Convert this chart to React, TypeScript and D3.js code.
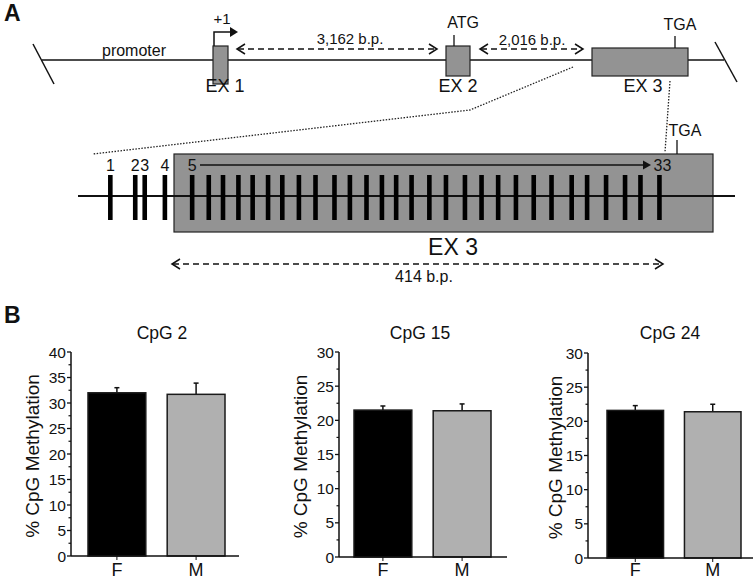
import React from "react";
import * as d3 from "d3";

// ---------- DATA ----------
const categories = ["F", "M"];
const chartTitles = ["CpG 2", "CpG 15", "CpG 24"];
const chartYMax = [40, 30, 30];
const meanValues = [
  [32.0, 31.7],
  [21.5, 21.4],
  [21.6, 21.4],
];
const errorValues = [
  [1.0, 2.2],
  [0.6, 1.0],
  [0.7, 1.1],
];
const barColors = ["#000000", "#b0b0b0"];
const yAxisLabel = "% CpG Methylation";

// CpG positions (bp, relative to start of the 414 bp amplicon region)
const cpgLabels = ["1", "2", "3", "4", "5", "33"];
const cpgPositions = [
  -52, -31, -23, -6, 17, 31, 43, 56, 68, 81, 93, 107, 121, 137, 150, 164, 177,
  189, 202, 217, 231, 247, 261, 275, 290, 305, 320, 337, 350, 366, 382, 395, 411,
];
const ampliconLength = 414;

const FONT = "'Liberation Sans', Arial, Helvetica, sans-serif";
const GRAY = "#939393";

// ---------- layout ----------
const panels = [
  { axisX: 71, top: 352, bottom: 556, right: 239, bar0: 88, bar1: 225, title: 162, labelX: 32 },
  { axisX: 339, top: 352, bottom: 557, right: 507, bar0: 354, bar1: 491, title: 420, labelX: 300 },
  { axisX: 588, top: 353, bottom: 558, right: 753, bar0: 607, bar1: 741, title: 670, labelX: 555 },
];

function BarPanel({ idx }: { idx: number }) {
  const p = panels[idx];
  const y = d3.scaleLinear().domain([0, chartYMax[idx]]).range([p.bottom, p.top]);
  const x = d3.scaleBand<string>().domain(categories).range([p.bar0, p.bar1]).paddingInner(0.27).paddingOuter(0);
  const majors = d3.range(0, chartYMax[idx] + 0.001, 5);
  const minors = d3.range(2.5, chartYMax[idx], 5);
  const midY = (p.top + p.bottom) / 2;
  return (
    <g>
      <text x={p.title} y={339} textAnchor="middle" fontSize={17.5} fontFamily={FONT} fill="#111">
        {chartTitles[idx]}
      </text>
      <text
        transform={`translate(${p.labelX},${midY + 2}) rotate(-90)`}
        textAnchor="middle"
        dominantBaseline="central"
        fontSize={19}
        fontFamily={FONT}
        fill="#111"
      >
        {yAxisLabel}
      </text>
      {categories.map((c, i) => {
        const v = meanValues[idx][i];
        const e = errorValues[idx][i];
        const bx = x(c)!;
        const cx = bx + x.bandwidth() / 2;
        return (
          <g key={c}>
            <line x1={cx} x2={cx} y1={y(v)} y2={y(v + e)} stroke="#111" strokeWidth={1.5} />
            <line x1={cx - 2.5} x2={cx + 2.5} y1={y(v + e)} y2={y(v + e)} stroke="#111" strokeWidth={1.5} />
            <rect x={bx} y={y(v)} width={x.bandwidth()} height={p.bottom - y(v)} fill={barColors[i]} stroke="#1a1a1a" strokeWidth={1.5} />
            <line x1={cx} x2={cx} y1={p.bottom} y2={p.bottom + 4} stroke="#111" strokeWidth={1} />
            <text x={cx} y={576} textAnchor="middle" fontSize={18} fontFamily={FONT} fill="#111">
              {c}
            </text>
          </g>
        );
      })}
      <line x1={p.axisX} x2={p.axisX} y1={p.top} y2={p.bottom} stroke="#111" strokeWidth={1.5} />
      <line x1={p.axisX} x2={p.right} y1={p.bottom} y2={p.bottom} stroke="#111" strokeWidth={1.5} />
      {majors.map((t) => (
        <g key={"M" + t}>
          <line x1={p.axisX - 4} x2={p.axisX} y1={y(t)} y2={y(t)} stroke="#111" strokeWidth={1.3} />
          <text x={p.axisX - 5} y={y(t)} textAnchor="end" dominantBaseline="central" fontSize={15.5} fontFamily={FONT} fill="#111">
            {t}
          </text>
        </g>
      ))}
      {minors.map((t) => (
        <line key={"m" + t} x1={p.axisX - 2.5} x2={p.axisX} y1={y(t)} y2={y(t)} stroke="#111" strokeWidth={1.2} />
      ))}
    </g>
  );
}

function Arrow({ x1, x2, y }: { x1: number; x2: number; y: number }) {
  // dashed double-headed arrow with chevron heads
  return (
    <g stroke="#111" strokeWidth={1.5} fill="none">
      <line x1={x1 + 1} x2={x2 - 1} y1={y} y2={y} strokeDasharray="6,4" />
      <polyline points={`${x1 + 8},${y - 5} ${x1},${y} ${x1 + 8},${y + 5}`} />
      <polyline points={`${x2 - 8},${y - 5} ${x2},${y} ${x2 - 8},${y + 5}`} />
    </g>
  );
}

function PanelA() {
  const cx = d3.scaleLinear().domain([0, ampliconLength]).range([172, 663]);
  const labelIdx = [0, 1, 2, 3, 4, 32];
  return (
    <g fontFamily={FONT} fill="#111">
      <text x={4} y={21} fontSize={23} fontWeight="bold" fontFamily={FONT}>A</text>
      {/* upper gene line */}
      <line x1={42} x2={724} y1={60} y2={60} stroke="#111" strokeWidth={1.5} />
      <line x1={33} x2={54} y1={44} y2={84} stroke="#111" strokeWidth={1.5} />
      <line x1={715} x2={737} y1={42} y2={82} stroke="#111" strokeWidth={1.5} />
      <text x={134} y={56} textAnchor="middle" fontSize={16}>promoter</text>
      {/* EX1 */}
      <rect x={213} y={46} width={15} height={38} fill={GRAY} stroke="#222" strokeWidth={1.2} />
      <polyline points="214,46 214,32 231,32" fill="none" stroke="#111" strokeWidth={1.5} />
      <polygon points="230,27 238,32 230,37" fill="#111" />
      <text x={222} y={24} textAnchor="middle" fontSize={15}>+1</text>
      <text x={225} y={92} textAnchor="middle" fontSize={18}>EX 1</text>
      {/* 3,162 */}
      <Arrow x1={237} x2={437} y={49} />
      <text x={350} y={44} textAnchor="middle" fontSize={15}>3,162 b.p.</text>
      {/* EX2 */}
      <rect x={446} y={46} width={24} height={30} fill={GRAY} stroke="#222" strokeWidth={1.2} />
      <line x1={454} x2={454} y1={35} y2={46} stroke="#111" strokeWidth={1.3} />
      <text x={463} y={28} textAnchor="middle" fontSize={16}>ATG</text>
      <text x={458} y={92} textAnchor="middle" fontSize={18}>EX 2</text>
      {/* 2,016 */}
      <Arrow x1={480} x2={583} y={49} />
      <text x={532} y={45} textAnchor="middle" fontSize={15}>2,016 b.p.</text>
      {/* EX3 */}
      <rect x={592} y={48} width={96} height={28} fill={GRAY} stroke="#222" strokeWidth={1.2} />
      <line x1={675} x2={675} y1={36} y2={48} stroke="#111" strokeWidth={1.3} />
      <text x={680} y={30} textAnchor="middle" fontSize={16}>TGA</text>
      <text x={643} y={92} textAnchor="middle" fontSize={18}>EX 3</text>
      {/* dotted zoom lines */}
      <polyline points="573,67 470,110 93,154" fill="none" stroke="#222" strokeWidth={1.3} strokeDasharray="1.5,1.5" />
      <line x1={670} y1={81} x2={665} y2={152} stroke="#222" strokeWidth={1.3} strokeDasharray="1.5,1.5" />
      {/* lower detail */}
      <rect x={174} y={154} width={539} height={78} fill={GRAY} stroke="#222" strokeWidth={1.2} />
      <line x1={78} x2={735} y1={196} y2={196} stroke="#111" strokeWidth={2} />
      <line x1={677} x2={677} y1={140} y2={154} stroke="#111" strokeWidth={1.3} />
      <text x={685} y={136} textAnchor="middle" fontSize={16}>TGA</text>
      {cpgPositions.map((pos, i) => (
        <rect key={i} x={cx(pos) - 2.3} y={175} width={4.6} height={45} fill="#000" />
      ))}
      {labelIdx.map((li, k) => (
        <text key={k} x={cx(cpgPositions[li]) + (k === 5 ? 3 : 0)} y={171} textAnchor="middle" fontSize={16}>
          {cpgLabels[k]}
        </text>
      ))}
      <line x1={200} x2={645} y1={165} y2={165} stroke="#111" strokeWidth={1.3} />
      <polygon points="643,160.5 651,165 643,169.5" fill="#111" />
      <text x={453} y={255} textAnchor="middle" fontSize={23}>EX 3</text>
      <Arrow x1={cx(0)} x2={cx(ampliconLength)} y={264} />
      <text x={424} y={282} textAnchor="middle" fontSize={16}>414 b.p.</text>
    </g>
  );
}

export default function App() {
  return (
    <div style={{ position: "absolute", left: 0, top: 0 }}>
      <svg width={754} height={579} viewBox="0 0 754 579" style={{ display: "block", background: "#fff" }}>
        <rect width={754} height={579} fill="#fff" />
        <PanelA />
        <text x={4} y={323} fontSize={23} fontWeight="bold" fontFamily={FONT} fill="#111">B</text>
        {panels.map((_, i) => (
          <BarPanel key={i} idx={i} />
        ))}
      </svg>
    </div>
  );
}
